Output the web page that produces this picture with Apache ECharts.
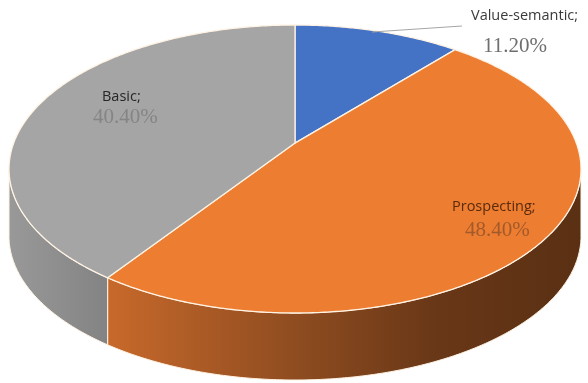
<!DOCTYPE html>
<html><head><meta charset="utf-8">
<script src="https://cdn.jsdelivr.net/npm/echarts@6.0.0/dist/echarts.min.js"></script>
<style>html,body{margin:0;padding:0;background:#fff}#c{width:588px;height:383px}</style>
</head><body><div id="c"></div>
<script>
// ---- data ----
const categories = ['Value-semantic', 'Prospecting', 'Basic'];
const values = [11.2, 48.4, 40.4];

// ---- styles ----
const topColors = ['#4472C4', '#ED7D31', '#A5A5A5'];
const sideStops = [
  [[0, '#3A62A8'], [1, '#2C4C84']],
  [[0, '#C8692B'], [0.4, '#8E4C20'], [0.7, '#683717'], [1, '#5A3013']],
  [[0, '#999999'], [1, '#838383']]
];
const nameColors = ['#3A3A3A', '#5A2A0C', '#262626'];
const pctColors = ['#6E6E6E', '#A25A2A', '#858585'];
const EDGE = '#FFF3E4';

// ---- layout (3D pie projection) ----
const CX = 295, CY = 169, RX = 286, RY = 144, DEPTH = 67, PERSP = 0.18;
const labelPos = [[471, 16, 483, 46], [452, 207, 465, 230], [102, 97, 93, 117]];

const total = values.reduce((a, b) => a + b, 0);
const starts = [];
values.reduce((acc, v) => { starts.push(acc); return acc + v; }, 0);

function project(t) {
  const u = Math.sin(t), v = Math.cos(t);
  const den = 1 + PERSP * v;
  const xp = u * Math.sqrt(1 - PERSP * PERSP) / den;
  const yp = (v + PERSP) / den;
  return [CX + RX * xp, CY - RY * yp];
}
function arc(s, e) {
  const pts = [];
  const n = Math.max(2, Math.ceil((e - s) / (Math.PI / 360)));
  for (let k = 0; k <= n; k++) pts.push(project(s + (e - s) * k / n));
  return pts;
}

const chart = echarts.init(document.getElementById('c'));
chart.setOption({
  animation: false,
  backgroundColor: '#fff',
  series: [{
    type: 'custom',
    coordinateSystem: 'none',
    data: values.map((v, i) => ({ name: categories[i], value: v })),
    renderItem: function (params, api) {
      const i = params.dataIndex;
      const val = api.value(0);
      const s = starts[i] / total * 2 * Math.PI;
      const e = s + val / total * 2 * Math.PI;
      const children = [];
      const a0 = Math.acos(-PERSP), a1 = 2 * Math.PI - a0;
      const ss = Math.max(s, a0), se = Math.min(e, a1);
      if (se > ss) {
        const top = arc(ss, se);
        const bot = top.map(p => [p[0], p[1] + DEPTH]).reverse();
        children.push({
          type: 'polygon', z2: 1,
          shape: { points: top.concat(bot) },
          style: {
            fill: { type: 'linear', x: 0, y: 0, x2: 1, y2: 0,
              colorStops: sideStops[i].map(c => ({ offset: c[0], color: c[1] })) },
            stroke: EDGE, lineWidth: 1
          }
        });
      }
      const pts = [[CX, CY - RY * PERSP]].concat(arc(s, e));
      children.push({
        type: 'polygon', z2: 2,
        shape: { points: pts },
        style: { fill: topColors[i], stroke: EDGE, lineWidth: 1.3 }
      });
      const lp = labelPos[i];
      if (i === 0) {
        children.push({
          type: 'line', z2: 50,
          shape: { x1: 372, y1: 32, x2: 462, y2: 26 },
          style: { stroke: '#A6A6A6', lineWidth: 1.2 }
        });
      }
      children.push({
        type: 'text', z2: 100, x: lp[0], y: lp[1],
        style: { text: categories[i] + ';', fill: nameColors[i],
          font: '14.5px "Open Sans"', textAlign: 'left', textVerticalAlign: 'middle' }
      });
      children.push({
        type: 'text', z2: 100, x: lp[2], y: lp[3],
        style: { text: val.toFixed(2) + '%', fill: pctColors[i],
          font: '21px "Liberation Serif"', textAlign: 'left', textVerticalAlign: 'middle' }
      });
      return { type: 'group', children: children };
    }
  }]
});
</script>
</body></html>
